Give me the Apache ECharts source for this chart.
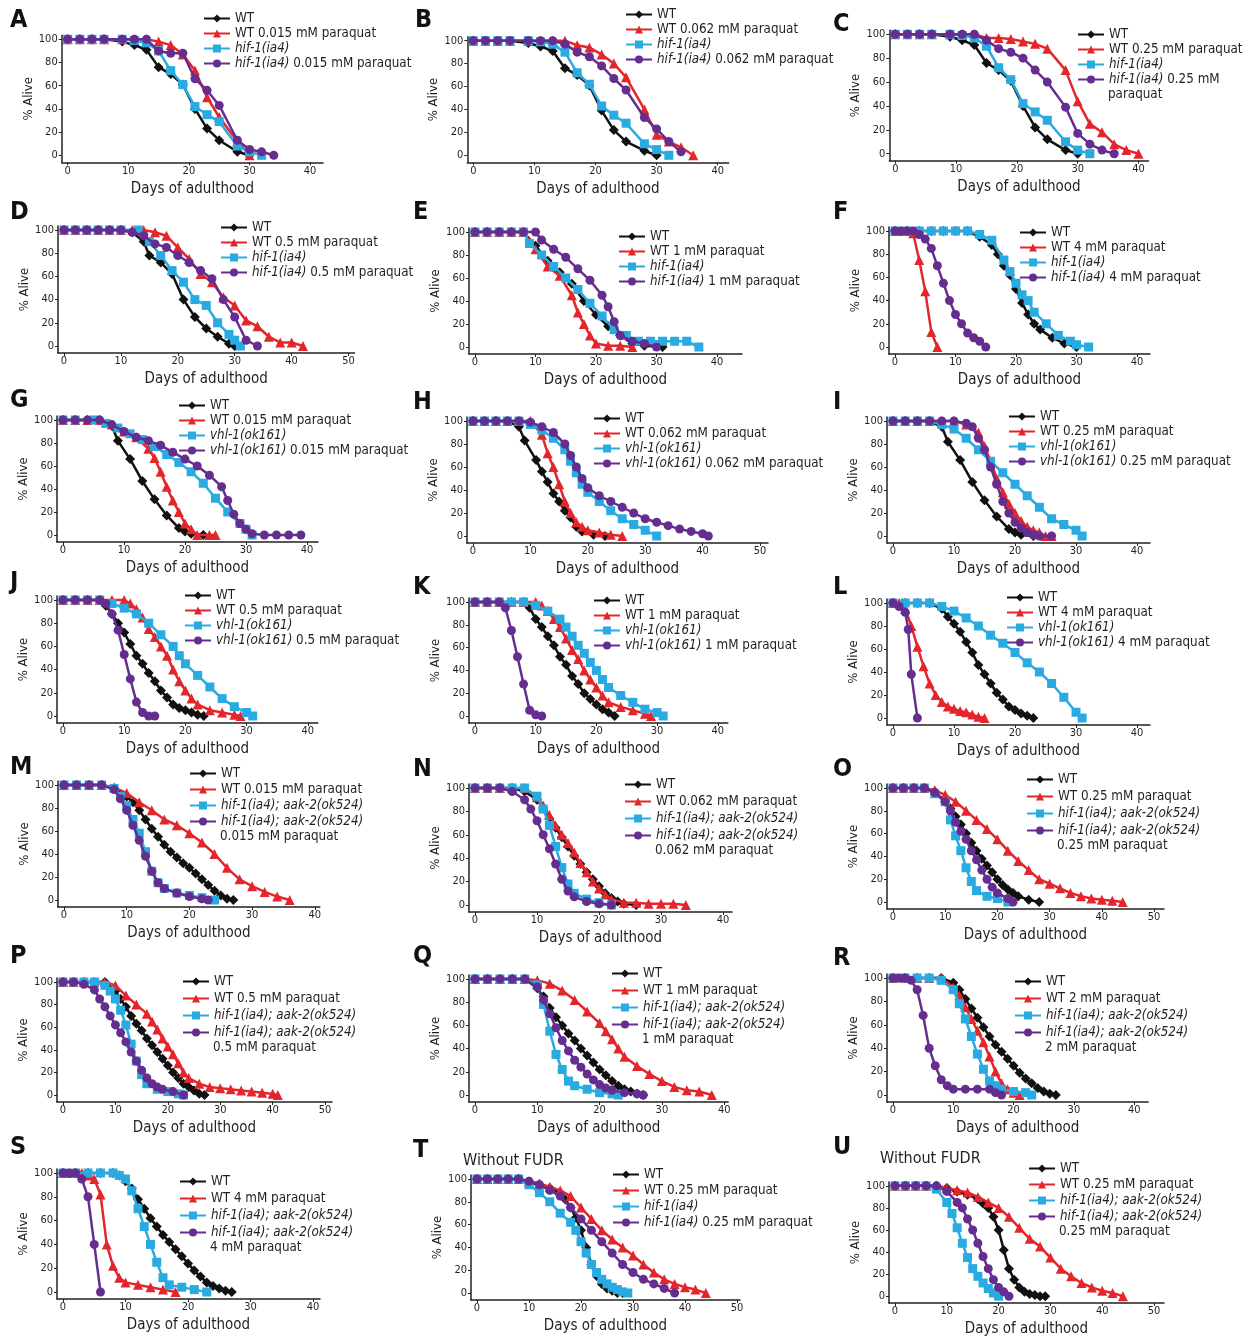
<!DOCTYPE html>
<html>
<head>
<meta charset="utf-8">
<script src="https://cdn.jsdelivr.net/npm/echarts@6/dist/echarts.min.js"></script>
<style>
  html, body { margin: 0; padding: 0; background: #fff; }
  #fig { width: 1253px; height: 1338px; }
</style>
</head>
<body>
<div id="fig"></div>
<script>
// ---- data: [day, % alive] per curve, order = WT, WT+paraquat, mutant, mutant+paraquat
var panelIds = ['A','B','C','D','E','F','G','H','I','J','K','L','M','N','O','P','Q','R','S','T','U'];
var xTicks40 = [0, 10, 20, 30, 40];
var xTicks50 = [0, 10, 20, 30, 40, 50];
var yTicks = [0, 20, 40, 60, 80, 100];

var labelsA = ['WT', 'WT 0.015 mM paraquat', 'hif-1(ia4)', 'hif-1(ia4) 0.015 mM paraquat'];
var curvesA = [
  [[0,100],[2,100],[4,100],[6,100],[9,98],[11,95],[13,91],[15,76],[17,70],[19,61],[21,40],[23,23],[25,13],[28,3],[30,0]],
  [[0,100],[2,100],[4,100],[6,100],[9,100],[11,100],[13,100],[15,98],[17,95],[19,87],[21,73],[23,50],[25,33],[28,12],[30,0]],
  [[0,100],[2,100],[4,100],[6,100],[9,100],[11,99],[13,97],[15,90],[17,73],[19,61],[21,42],[23,35],[25,29],[28,8],[30,3],[32,0]],
  [[0,100],[2,100],[4,100],[6,100],[9,100],[11,100],[13,100],[15,90],[17,88],[19,88],[21,66],[23,56],[25,43],[28,13],[30,5],[32,3],[34,0]]
];
var labelsB = ['WT', 'WT 0.062 mM paraquat', 'hif-1(ia4)', 'hif-1(ia4) 0.062 mM paraquat'];
var curvesB = [
  [[0,100],[2,100],[4,100],[6,100],[9,98],[11,95],[13,91],[15,76],[17,70],[19,61],[21,39],[23,22],[25,12],[28,4],[30,0]],
  [[0,100],[2,100],[4,100],[6,100],[9,100],[11,100],[13,100],[15,100],[17,96],[19,94],[21,88],[23,80],[25,68],[28,40],[30,18],[32,12],[34,7],[36,0]],
  [[0,100],[2,100],[4,100],[6,100],[9,100],[11,99],[13,97],[15,90],[17,72],[19,62],[21,43],[23,35],[25,28],[28,10],[30,5],[32,0]],
  [[0,100],[2,100],[4,100],[6,100],[9,100],[11,100],[13,100],[15,97],[17,90],[19,86],[21,78],[23,67],[25,57],[28,33],[30,23],[32,12],[34,3]]
];
var labelsC = ['WT', 'WT 0.25 mM paraquat', 'hif-1(ia4)', 'hif-1(ia4) 0.25 mM\nparaquat'];
var curvesC = [
  [[0,100],[2,100],[4,100],[6,100],[9,98],[11,95],[13,91],[15,76],[17,70],[19,61],[21,40],[23,22],[25,12],[28,3],[30,0]],
  [[0,100],[2,100],[4,100],[6,100],[9,100],[11,100],[13,100],[15,97],[17,97],[19,96],[21,94],[23,92],[25,88],[28,70],[30,44],[32,25],[34,18],[36,8],[38,3],[40,0]],
  [[0,100],[2,100],[4,100],[6,100],[9,100],[11,99],[13,97],[15,90],[17,72],[19,62],[21,42],[23,35],[25,28],[28,10],[30,3],[32,0]],
  [[0,100],[2,100],[4,100],[6,100],[9,100],[11,100],[13,100],[15,95],[17,88],[19,85],[21,80],[23,70],[25,60],[28,39],[30,17],[32,8],[34,3],[36,0]]
];
var labelsD = ['WT', 'WT 0.5 mM paraquat', 'hif-1(ia4)', 'hif-1(ia4) 0.5 mM paraquat'];
var curvesD = [
  [[0,100],[2,100],[4,100],[6,100],[8,100],[10,100],[12,98],[14,90],[15,78],[17,72],[19,62],[21,40],[23,25],[25,15],[27,8],[29,2],[30,0]],
  [[0,100],[2,100],[4,100],[6,100],[8,100],[10,100],[12,100],[14,100],[16,98],[18,95],[20,85],[22,75],[24,62],[26,55],[28,42],[30,35],[32,22],[34,17],[36,8],[38,3],[40,3],[42,0]],
  [[0,100],[2,100],[4,100],[6,100],[8,100],[10,100],[13,100],[15,90],[17,78],[19,65],[21,55],[23,40],[25,35],[27,20],[29,10],[30,5],[31,0]],
  [[0,100],[2,100],[4,100],[6,100],[8,100],[10,100],[12,98],[14,95],[16,88],[18,85],[20,78],[22,72],[24,65],[26,58],[28,40],[30,25],[32,5],[34,0]]
];
var labelsE = ['WT', 'WT 1 mM paraquat', 'hif-1(ia4)', 'hif-1(ia4) 1 mM paraquat'];
var curvesE = [
  [[0,100],[2,100],[4,100],[6,100],[8,100],[10,88],[12,75],[14,65],[16,55],[18,40],[20,28],[22,18],[24,10],[26,3],[28,1],[31,0]],
  [[0,100],[2,100],[4,100],[6,100],[8,100],[10,85],[12,70],[14,62],[16,45],[17,30],[18,20],[19,10],[20,3],[22,1],[24,1],[26,0]],
  [[0,100],[2,100],[4,100],[6,100],[8,100],[9,90],[11,80],[13,70],[15,60],[17,50],[19,38],[21,27],[23,15],[25,10],[27,5],[29,5],[31,5],[33,5],[35,5],[37,0]],
  [[0,100],[2,100],[4,100],[6,100],[8,100],[10,100],[11,93],[13,85],[15,78],[17,68],[19,58],[21,45],[22,35],[23,22],[24,10],[26,5],[28,3],[30,0]]
];
var labelsF = ['WT', 'WT 4 mM paraquat', 'hif-1(ia4)', 'hif-1(ia4) 4 mM paraquat'];
var curvesF = [
  [[0,100],[2,100],[4,100],[6,100],[8,100],[10,100],[12,100],[14,95],[16,88],[17,80],[18,70],[19,62],[20,50],[21,38],[22,28],[23,20],[24,15],[26,8],[28,3],[30,0]],
  [[0,100],[1,100],[2,100],[3,98],[4,75],[5,48],[6,13],[7,0]],
  [[0,100],[2,100],[4,100],[6,100],[8,100],[10,100],[12,100],[14,97],[16,92],[18,75],[19,65],[20,55],[21,45],[22,40],[23,30],[25,20],[27,10],[29,5],[30,2],[32,0]],
  [[0,100],[1,100],[2,100],[3,100],[4,97],[5,93],[6,85],[7,70],[8,55],[9,40],[10,28],[11,20],[12,12],[13,8],[14,5],[15,0]]
];
var labelsG = ['WT', 'WT 0.015 mM paraquat', 'vhl-1(ok161)', 'vhl-1(ok161) 0.015 mM paraquat'];
var curvesG = [
  [[0,100],[2,100],[4,100],[6,100],[8,95],[9,82],[11,66],[13,47],[15,31],[17,17],[19,6],[20,3],[21,1],[23,0]],
  [[0,100],[2,100],[4,100],[6,100],[8,96],[10,90],[12,85],[14,75],[15,67],[16,55],[17,42],[18,30],[19,20],[20,10],[21,5],[22,0],[24,0],[25,0]],
  [[0,100],[2,100],[5,100],[7,97],[9,93],[11,88],[13,83],[15,77],[17,70],[19,63],[21,55],[23,45],[25,32],[27,20],[29,10],[30,5],[31,0]],
  [[0,100],[2,100],[4,100],[6,100],[8,96],[10,90],[12,85],[14,82],[16,78],[18,72],[20,66],[22,60],[24,52],[26,42],[27,30],[28,18],[29,10],[30,5],[31,1],[33,0],[35,0],[37,0],[39,0]]
];
var labelsH = ['WT', 'WT 0.062 mM paraquat', 'vhl-1(ok161)', 'vhl-1(ok161) 0.062 mM paraquat'];
var curvesH = [
  [[0,100],[2,100],[4,100],[6,100],[8,95],[9,83],[11,66],[12,56],[13,47],[14,37],[15,30],[16,22],[17,16],[18,8],[19,4],[21,1],[23,0]],
  [[0,100],[2,100],[4,100],[6,100],[8,100],[10,100],[12,88],[13,72],[14,60],[15,45],[16,30],[17,20],[18,12],[19,8],[20,5],[22,3],[24,1],[26,0]],
  [[0,100],[2,100],[4,100],[6,100],[8,100],[10,97],[12,92],[14,85],[16,75],[17,65],[18,55],[19,45],[20,38],[22,30],[24,22],[26,15],[28,10],[30,5],[32,0]],
  [[0,100],[2,100],[4,100],[6,100],[8,100],[10,99],[12,95],[14,90],[16,80],[17,70],[18,60],[19,50],[20,42],[22,35],[24,30],[26,25],[28,20],[30,15],[32,12],[34,9],[36,6],[38,4],[40,2],[41,0]]
];
var labelsI = ['WT', 'WT 0.25 mM paraquat', 'vhl-1(ok161)', 'vhl-1(ok161) 0.25 mM paraquat'];
var curvesI = [
  [[0,100],[2,100],[4,100],[6,100],[8,95],[9,82],[11,66],[13,47],[15,31],[17,17],[19,6],[20,3],[21,1],[23,0]],
  [[0,100],[2,100],[4,100],[6,100],[8,100],[10,100],[12,97],[14,90],[15,78],[16,65],[17,50],[18,38],[19,28],[20,20],[21,13],[22,8],[23,5],[24,3],[25,0],[26,0]],
  [[0,100],[2,100],[4,100],[6,100],[8,97],[10,93],[12,85],[14,75],[16,65],[18,55],[20,45],[22,35],[24,25],[26,15],[28,10],[30,5],[31,0]],
  [[0,100],[2,100],[4,100],[6,100],[8,100],[10,100],[12,98],[13,95],[14,85],[15,75],[16,60],[17,45],[18,30],[19,20],[20,12],[21,7],[22,3],[23,1],[24,0],[26,0]]
];
var labelsJ = ['WT', 'WT 0.5 mM paraquat', 'vhl-1(ok161)', 'vhl-1(ok161) 0.5 mM paraquat'];
var curvesJ = [
  [[0,100],[2,100],[4,100],[6,100],[7,95],[8,88],[9,80],[10,72],[11,62],[12,52],[13,45],[14,37],[15,30],[16,22],[17,16],[18,10],[19,7],[20,5],[21,3],[22,1],[23,0]],
  [[0,100],[2,100],[4,100],[6,100],[8,100],[10,100],[11,97],[12,92],[13,85],[14,75],[15,68],[16,60],[17,52],[18,40],[19,30],[20,22],[21,15],[22,10],[24,5],[26,3],[28,1],[29,0]],
  [[0,100],[2,100],[4,100],[6,100],[8,97],[10,93],[12,88],[14,80],[16,70],[18,60],[19,52],[20,45],[22,35],[24,25],[26,15],[28,8],[30,3],[31,0]],
  [[0,100],[2,100],[4,100],[6,100],[7,97],[8,88],[9,74],[10,53],[11,32],[12,12],[13,3],[14,0],[15,0]]
];
var labelsK = ['WT', 'WT 1 mM paraquat', 'vhl-1(ok161)', 'vhl-1(ok161) 1 mM paraquat'];
var curvesK = [
  [[0,100],[2,100],[4,100],[6,100],[8,100],[9,95],[10,85],[11,78],[12,70],[13,62],[14,52],[15,45],[16,35],[17,28],[18,20],[19,15],[20,10],[21,6],[22,3],[23,0]],
  [[0,100],[2,100],[4,100],[6,100],[8,100],[10,100],[11,97],[12,92],[13,85],[14,78],[15,68],[16,58],[17,50],[18,40],[19,32],[20,25],[21,18],[22,12],[24,8],[26,5],[28,2],[29,0]],
  [[0,100],[2,100],[4,100],[6,100],[8,100],[10,97],[12,92],[14,85],[15,78],[16,70],[17,62],[18,55],[19,47],[20,40],[21,32],[22,25],[24,18],[26,12],[28,6],[30,3],[31,0]],
  [[0,100],[2,100],[4,100],[5,95],[6,75],[7,52],[8,28],[9,5],[10,1],[11,0]]
];
var labelsL = ['WT', 'WT 4 mM paraquat', 'vhl-1(ok161)', 'vhl-1(ok161) 4 mM paraquat'];
var curvesL = [
  [[0,100],[2,100],[4,100],[6,100],[8,95],[9,88],[10,82],[11,75],[12,66],[13,57],[14,46],[15,38],[16,30],[17,22],[18,16],[19,10],[20,7],[21,4],[22,2],[23,0]],
  [[0,100],[1,100],[2,95],[3,80],[4,62],[5,45],[6,30],[7,20],[8,14],[9,10],[10,8],[11,6],[12,5],[13,3],[14,1],[15,0]],
  [[0,100],[2,100],[4,100],[6,100],[8,97],[10,93],[12,87],[14,80],[16,72],[18,65],[20,57],[22,48],[24,40],[26,30],[28,18],[30,5],[31,0]],
  [[0,100],[1,97],[2,92],[2.5,77],[3,38],[4,0]]
];
var labelsM = ['WT', 'WT 0.015 mM paraquat', 'hif-1(ia4); aak-2(ok524)', 'hif-1(ia4); aak-2(ok524)\n0.015 mM paraquat'];
var curvesM = [
  [[0,100],[2,100],[4,100],[6,100],[8,97],[10,90],[11,85],[12,78],[13,70],[14,62],[15,55],[16,48],[17,42],[18,37],[19,32],[20,28],[21,23],[22,18],[23,13],[24,8],[25,4],[26,1],[27,0]],
  [[0,100],[2,100],[4,100],[6,100],[8,98],[10,93],[12,85],[14,78],[16,70],[18,65],[20,58],[22,50],[24,40],[26,28],[28,18],[30,12],[32,7],[34,3],[36,0]],
  [[0,100],[2,100],[4,100],[6,100],[8,97],[9,90],[10,82],[11,70],[12,58],[13,42],[14,25],[15,15],[16,10],[18,6],[20,4],[22,2],[24,0]],
  [[0,100],[2,100],[4,100],[6,100],[8,96],[9,88],[10,78],[11,65],[12,52],[13,38],[14,25],[15,15],[16,10],[18,6],[20,3],[22,1],[23,0]]
];
var labelsN = ['WT', 'WT 0.062 mM paraquat', 'hif-1(ia4); aak-2(ok524)', 'hif-1(ia4); aak-2(ok524)\n0.062 mM paraquat'];
var curvesN = [
  [[0,100],[2,100],[4,100],[6,100],[8,97],[10,90],[11,83],[12,74],[13,66],[14,58],[15,50],[16,42],[17,35],[18,28],[19,22],[20,16],[21,10],[22,6],[23,3],[24,1],[26,0]],
  [[0,100],[2,100],[4,100],[6,100],[8,100],[10,92],[11,85],[12,77],[13,68],[14,60],[15,53],[16,45],[17,36],[18,28],[19,20],[20,14],[21,9],[22,5],[24,2],[26,2],[28,1],[30,1],[32,1],[34,0]],
  [[0,100],[2,100],[4,100],[6,100],[8,100],[10,93],[11,82],[12,68],[13,50],[14,32],[15,18],[16,10],[18,5],[20,2],[22,0]],
  [[0,100],[2,100],[4,100],[6,97],[8,90],[9,82],[10,72],[11,60],[12,48],[13,35],[14,22],[15,12],[16,7],[18,3],[20,1],[22,0]]
];
var labelsO = ['WT', 'WT 0.25 mM paraquat', 'hif-1(ia4); aak-2(ok524)', 'hif-1(ia4); aak-2(ok524)\n0.25 mM paraquat'];
var curvesO = [
  [[0,100],[2,100],[4,100],[6,100],[8,97],[10,88],[11,82],[12,75],[13,68],[14,60],[15,52],[16,45],[17,38],[18,32],[19,26],[20,20],[21,15],[22,11],[23,8],[24,5],[26,2],[28,0]],
  [[0,100],[2,100],[4,100],[6,100],[8,98],[10,94],[12,88],[14,80],[16,72],[18,64],[20,55],[22,45],[24,36],[26,28],[28,20],[30,16],[32,12],[34,8],[36,5],[38,3],[40,2],[42,1],[44,0]],
  [[0,100],[2,100],[4,100],[6,100],[8,95],[10,88],[11,72],[12,58],[13,45],[14,30],[15,18],[16,10],[18,5],[20,3],[22,0]],
  [[0,100],[2,100],[4,100],[6,100],[8,96],[10,88],[11,80],[12,70],[13,62],[14,55],[15,45],[16,37],[17,28],[18,20],[19,13],[20,8],[22,3],[23,0]]
];
var labelsP = ['WT', 'WT 0.5 mM paraquat', 'hif-1(ia4); aak-2(ok524)', 'hif-1(ia4); aak-2(ok524)\n0.5 mM paraquat'];
var curvesP = [
  [[0,100],[2,100],[4,100],[6,100],[8,100],[10,92],[11,85],[12,78],[13,70],[14,63],[15,57],[16,50],[17,44],[18,38],[19,32],[20,26],[21,20],[22,15],[23,10],[24,7],[25,4],[26,1],[27,0]],
  [[0,100],[2,100],[4,100],[6,100],[8,100],[10,97],[12,88],[14,80],[16,72],[17,65],[18,58],[19,50],[20,43],[21,36],[22,28],[23,20],[24,15],[26,10],[28,7],[30,6],[32,5],[34,4],[36,3],[38,2],[40,1],[41,0]],
  [[0,100],[2,100],[4,100],[6,100],[8,97],[9,92],[10,85],[11,75],[12,62],[13,45],[14,30],[15,18],[16,10],[18,5],[20,3],[22,1],[23,0]],
  [[0,100],[2,100],[4,98],[6,93],[7,85],[8,78],[9,70],[10,62],[11,55],[12,47],[13,38],[14,30],[15,22],[16,15],[17,10],[18,7],[19,5],[21,3],[23,0]]
];
var labelsQ = ['WT', 'WT 1 mM paraquat', 'hif-1(ia4); aak-2(ok524)', 'hif-1(ia4); aak-2(ok524)\n1 mM paraquat'];
var curvesQ = [
  [[0,100],[2,100],[4,100],[6,100],[8,100],[10,92],[11,85],[12,75],[13,67],[14,60],[15,53],[16,47],[17,40],[18,34],[19,28],[20,22],[21,17],[22,12],[23,8],[24,5],[25,3],[26,1],[27,0]],
  [[0,100],[2,100],[4,100],[6,100],[8,100],[10,99],[12,96],[14,90],[16,82],[18,72],[20,62],[21,55],[22,48],[23,40],[24,33],[26,25],[28,18],[30,12],[32,7],[34,4],[36,3],[38,0]],
  [[0,100],[2,100],[4,100],[6,100],[8,100],[10,95],[11,78],[12,55],[13,35],[14,22],[15,12],[16,8],[18,5],[20,2],[22,1],[23,0]],
  [[0,100],[2,100],[4,100],[6,100],[8,100],[10,93],[11,82],[12,70],[13,58],[14,47],[15,38],[16,30],[17,24],[18,18],[19,13],[20,9],[21,6],[22,4],[24,2],[26,1],[27,0]]
];
var labelsR = ['WT', 'WT 2 mM paraquat', 'hif-1(ia4); aak-2(ok524)', 'hif-1(ia4); aak-2(ok524)\n2 mM paraquat'];
var curvesR = [
  [[0,100],[2,100],[4,100],[6,100],[8,100],[10,96],[11,90],[12,82],[13,74],[14,66],[15,58],[16,50],[17,43],[18,37],[19,31],[20,25],[21,19],[22,14],[23,10],[24,6],[25,3],[26,1],[27,0]],
  [[0,100],[2,100],[4,100],[6,100],[8,100],[10,92],[11,85],[12,75],[13,65],[14,55],[15,45],[16,33],[17,20],[18,10],[19,5],[20,2],[21,0]],
  [[0,100],[2,100],[4,100],[6,100],[8,98],[10,90],[11,78],[12,65],[13,50],[14,35],[15,22],[16,12],[17,8],[18,5],[20,3],[22,2],[23,0]],
  [[0,100],[1,100],[2,100],[3,98],[4,90],[5,68],[6,40],[7,25],[8,13],[9,8],[10,5],[12,5],[14,5],[16,5],[17,2],[18,0]]
];
var labelsS = ['WT', 'WT 4 mM paraquat', 'hif-1(ia4); aak-2(ok524)', 'hif-1(ia4); aak-2(ok524)\n4 mM paraquat'];
var curvesS = [
  [[0,100],[2,100],[4,100],[6,100],[8,100],[9,98],[10,93],[11,87],[12,78],[13,70],[14,62],[15,55],[16,48],[17,42],[18,36],[19,30],[20,24],[21,18],[22,13],[23,8],[24,5],[25,3],[26,1],[27,0]],
  [[0,100],[1,100],[2,100],[3,100],[4,98],[5,95],[6,82],[7,40],[8,22],[9,12],[10,8],[12,6],[14,4],[16,2],[18,0]],
  [[0,100],[2,100],[4,100],[6,100],[8,100],[9,98],[10,95],[11,85],[12,70],[13,55],[14,40],[15,25],[16,12],[17,6],[19,4],[21,2],[23,0]],
  [[0,100],[1,100],[2,100],[3,95],[4,80],[5,40],[6,0]]
];
var labelsT = ['WT', 'WT 0.25 mM paraquat', 'hif-1(ia4)', 'hif-1(ia4) 0.25 mM paraquat'];
var curvesT = [
  [[0,100],[2,100],[4,100],[6,100],[8,100],[10,97],[12,95],[14,92],[16,88],[17,82],[18,75],[19,66],[20,55],[21,40],[22,25],[23,15],[24,8],[25,4],[26,2],[27,0],[28,0]],
  [[0,100],[2,100],[4,100],[6,100],[8,100],[10,98],[12,96],[14,93],[16,90],[18,85],[20,75],[22,65],[24,55],[26,47],[28,40],[30,33],[32,25],[34,18],[36,12],[38,8],[40,5],[42,3],[44,0]],
  [[0,100],[2,100],[4,100],[6,100],[8,100],[10,95],[12,88],[14,80],[16,70],[18,62],[19,55],[20,45],[21,35],[22,25],[23,18],[24,12],[25,8],[26,5],[27,3],[28,1],[29,0]],
  [[0,100],[2,100],[4,100],[6,100],[8,100],[10,98],[12,95],[14,90],[16,85],[18,75],[20,65],[22,55],[24,45],[26,35],[28,25],[30,18],[32,12],[34,8],[36,4],[38,0]]
];
var labelsU = ['WT', 'WT 0.25 mM paraquat', 'hif-1(ia4); aak-2(ok524)', 'hif-1(ia4); aak-2(ok524)\n0.25 mM paraquat'];
var curvesU = [
  [[0,100],[2,100],[4,100],[6,100],[8,100],[10,98],[12,95],[14,92],[16,88],[17,84],[18,80],[19,72],[20,60],[21,42],[22,25],[23,15],[24,8],[25,4],[26,2],[27,1],[28,0],[29,0]],
  [[0,100],[2,100],[4,100],[6,100],[8,100],[10,98],[12,96],[14,94],[16,90],[18,85],[20,80],[22,72],[24,62],[26,52],[28,45],[30,35],[32,25],[34,18],[36,12],[38,8],[40,5],[42,3],[44,0]],
  [[0,100],[2,100],[4,100],[6,100],[8,97],[10,85],[11,75],[12,62],[13,48],[14,35],[15,25],[16,18],[17,12],[18,7],[19,3],[20,0]],
  [[0,100],[2,100],[4,100],[6,100],[8,100],[10,95],[12,85],[13,80],[14,70],[15,60],[16,48],[17,36],[18,25],[19,15],[20,8],[21,4],[22,0]]
];
var subtitles = { T: 'Without FUDR', U: 'Without FUDR' };

// ---- layout (pixels): [x of day 0, px per day, y of 100 %, y of 0 %, last x tick, axis overhang]
var frames = {
  A: [67.7, 6.06, 39.3, 155.3, 40, 13], B: [473.3, 6.11, 40.7, 155.3, 40, 11], C: [895.3, 6.08, 34.3, 153.7, 40, 10],
  D: [64, 5.69, 230, 346, 50, 6],       E: [475, 6.05, 232, 347, 40, 25],      F: [895, 6.05, 231, 347, 40, 13],
  G: [63, 6.1, 420, 535, 40, 11],       H: [473, 5.74, 421, 536, 50, 8],       I: [893, 6.1, 421, 536, 40, 13],
  J: [63, 6.12, 600, 716, 40, 10],      K: [475, 6.07, 602, 716, 40, 10],      L: [893, 6.1, 603, 718, 40, 13],
  M: [64, 6.27, 785, 900, 40, 5],       N: [475, 6.2, 788, 905, 40, 9],        O: [893, 5.22, 788, 902, 50, 10],
  P: [63, 5.24, 982, 1095, 50, 7],      Q: [475, 6.23, 979, 1095, 40, 4],      R: [893, 6.03, 978, 1095, 40, 14],
  S: [63, 6.25, 1173, 1292, 40, 7],     T: [477, 5.2, 1179, 1293, 50, 3],      U: [895, 5.18, 1186, 1300, 50, 10]
};
// legend [left, top, itemGap]
var legendPos = {
  A: [203, 11, 0], B: [625, 7, 0], C: [1077, 27, 0],
  D: [220, 220, 0], E: [618, 229, 0], F: [1019, 225, 0],
  G: [178, 398, 0], H: [593, 411, 0], I: [1008, 409, 0],
  J: [184, 588, 0], K: [593, 593, 0], L: [1006, 590, 0],
  M: [189, 766, 1], N: [624, 777, 2], O: [1026, 772, 2],
  P: [182, 974, 2], Q: [611, 966, 2], R: [1014, 974, 2],
  S: [179, 1174, 2], T: [612, 1167, 1], U: [1028, 1161, 1]
};
var letterPos = {
  A: [10, 8], B: [415, 8], C: [833, 12], D: [10, 200], E: [413, 200], F: [833, 200],
  G: [10, 388], H: [413, 390], I: [833, 390], J: [10, 570], K: [413, 575], L: [833, 575],
  M: [10, 755], N: [413, 757], O: [833, 757], P: [10, 944], Q: [413, 944], R: [833, 946],
  S: [10, 1135], T: [413, 1138], U: [833, 1135]
};
var subtitlePos = { T: [463, 1153], U: [880, 1151] };

var colors = ['#111111', '#e3262b', '#29abe2', '#662d91'];
var symbols = ['diamond', 'triangle', 'rect', 'circle'];
var symbolSizes = [10, 10, 9, 9];
var FONT = "'Liberation Sans Narrow', 'DejaVu Sans Condensed', 'Roboto Condensed', sans-serif";
var TXT = '#231f20';
var LEG_SIZE = 13.3, LEG_LINE = 15, ICON_W = 26;

function richName(name) {
  var first = name.split('\n')[0];
  var strains = ['hif-1(ia4); aak-2(ok524)', 'hif-1(ia4)', 'vhl-1(ok161)'];
  for (var i = 0; i < strains.length; i++) {
    if (first.indexOf(strains[i]) === 0) {
      return '{i|' + strains[i] + '}' + first.slice(strains[i].length);
    }
  }
  return first;
}

var chart = echarts.init(document.getElementById('fig'), null, { renderer: 'canvas' });

var grids = [], xAxes = [], yAxes = [], series = [], legends = [], graphics = [];

panelIds.forEach(function (id, k) {
  var f = frames[id];
  var x0 = f[0], ppd = f[1], y100 = f[2], y0 = f[3], xLast = f[4], ext = f[5];
  var gapX = 6, topPad = 4, botPad = 7;
  var ppy = (y0 - y100) / 100;
  grids.push({
    left: x0 - gapX, top: y100 - topPad,
    width: gapX + xLast * ppd + ext, height: (y0 - y100) + topPad + botPad
  });
  var ticks = xLast === 50 ? xTicks50 : xTicks40;
  xAxes.push({
    type: 'value', gridIndex: k,
    min: -gapX / ppd, max: xLast + ext / ppd,
    axisLine: { onZero: false, lineStyle: { color: '#222', width: 1.5 } },
    axisTick: { show: true, length: 3, customValues: ticks, lineStyle: { color: '#222' } },
    axisLabel: { customValues: ticks, fontSize: 11, color: TXT, fontFamily: FONT, margin: 3 },
    splitLine: { show: false },
    name: 'Days of adulthood', nameLocation: 'middle', nameGap: 19,
    nameTextStyle: { fontSize: 15, color: TXT, fontFamily: FONT }
  });
  yAxes.push({
    type: 'value', gridIndex: k,
    min: -botPad / ppy, max: 100 + topPad / ppy,
    axisLine: { onZero: false, lineStyle: { color: '#222', width: 1.5 } },
    axisTick: { show: true, length: 3, customValues: yTicks, lineStyle: { color: '#222' } },
    axisLabel: { customValues: yTicks, fontSize: 11, color: TXT, fontFamily: FONT, margin: 4 },
    splitLine: { show: false },
    name: '% Alive', nameLocation: 'middle', nameGap: 24, nameRotate: 90,
    nameTextStyle: { fontSize: 13, color: TXT, fontFamily: FONT }
  });

  var curves = window['curves' + id];
  var labels = window['labels' + id];
  curves.forEach(function (pts, s) {
    series.push({
      type: 'line', name: labels[s], xAxisIndex: k, yAxisIndex: k,
      data: pts, symbol: symbols[s], symbolSize: symbolSizes[s],
      showAllSymbol: true, animation: false, silent: true,
      itemStyle: { color: colors[s] },
      lineStyle: { color: colors[s], width: 2.5 },
      z: 2 + s
    });
  });

  var lp = legendPos[id];
  legends.push({
    orient: 'vertical', left: lp[0], top: lp[1], itemGap: lp[2],
    itemWidth: ICON_W, itemHeight: 10, padding: 0, selectedMode: false,
    data: labels,
    formatter: richName,
    textStyle: {
      fontSize: LEG_SIZE, color: TXT, fontFamily: FONT, lineHeight: LEG_LINE,
      rich: { i: { fontSize: LEG_SIZE, fontStyle: 'italic', color: TXT, fontFamily: FONT, lineHeight: LEG_LINE } }
    }
  });
  // second line of a wrapped legend entry, set under its first line
  labels.forEach(function (name, s) {
    var parts = name.split('\n');
    if (parts.length > 1) {
      graphics.push({
        type: 'text', left: lp[0] + ICON_W + 5, top: lp[1] + s * (LEG_LINE + lp[2]) + LEG_LINE + 1,
        style: { text: parts[1], font: LEG_SIZE + 'px ' + FONT, fill: TXT }
      });
    }
  });

  graphics.push({
    type: 'text', left: letterPos[id][0], top: letterPos[id][1],
    style: { text: id, font: 'bold 25px ' + FONT, fill: '#111' }
  });
  if (subtitles[id]) {
    graphics.push({
      type: 'text', left: subtitlePos[id][0], top: subtitlePos[id][1],
      style: { text: subtitles[id], font: '16px ' + FONT, fill: TXT }
    });
  }
});

chart.setOption({
  backgroundColor: '#fff',
  animation: false,
  grid: grids,
  xAxis: xAxes,
  yAxis: yAxes,
  legend: legends,
  series: series,
  graphic: graphics
});
</script>
</body>
</html>
